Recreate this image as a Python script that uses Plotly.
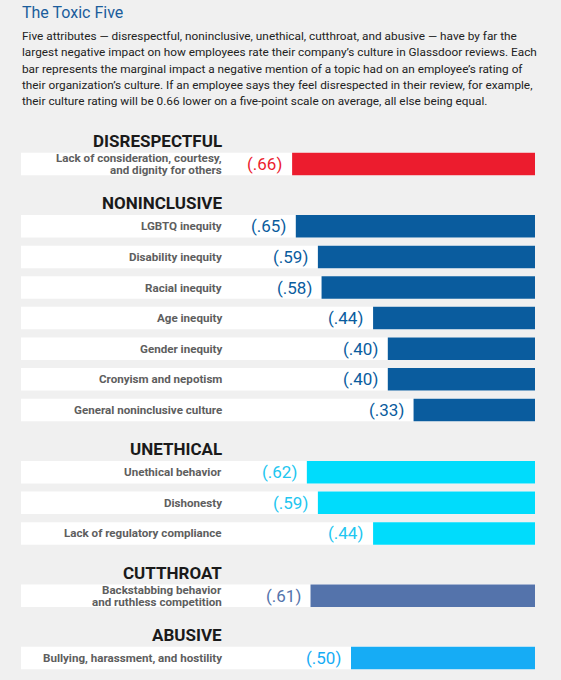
import plotly.graph_objects as go

# data
groups=["DISRESPECTFUL","NONINCLUSIVE","UNETHICAL","CUTTHROAT","ABUSIVE"]
disrespectful_topics=["Lack of consideration, courtesy,<br>and dignity for others"]
disrespectful_values=[0.66]
noninclusive_topics=["LGBTQ inequity","Disability inequity","Racial inequity",
                     "Age inequity","Gender inequity","Cronyism and nepotism",
                     "General noninclusive culture"]
noninclusive_values=[0.65,0.59,0.58,0.44,0.40,0.40,0.33]
unethical_topics=["Unethical behavior","Dishonesty","Lack of regulatory compliance"]
unethical_values=[0.62,0.59,0.44]
cutthroat_topics=["Backstabbing behavior<br>and ruthless competition"]
cutthroat_values=[0.61]
abusive_topics=["Bullying, harassment, and hostility"]
abusive_values=[0.50]

title="The Toxic Five"
subtitle_lines=[
    "Five attributes — disrespectful, noninclusive, unethical, cutthroat, and abusive — have by far the",
    "largest negative impact on how employees rate their company’s culture in Glassdoor reviews. Each",
    "bar represents the marginal impact a negative mention of a topic had on an employee’s rating of",
    "their organization’s culture. If an employee says they feel disrespected in their review, for example,",
    "their culture rating will be 0.66 lower on a five-point scale on average, all else being equal.",
]

#color scheme:
red="#ec1c2e"
dark_blue="#0a5c9e"
cyan="#00dcfc"
slate="#5473ab"
sky="#16acf5"
bg="#f0f0f0"
group_colors=[red,dark_blue,cyan,slate,sky]
label_colors=[red,dark_blue,"#22c6f0",slate,sky]

topics=[disrespectful_topics,noninclusive_topics,unethical_topics,cutthroat_topics,abusive_topics]
values=[disrespectful_values,noninclusive_values,unethical_values,cutthroat_values,abusive_values]

# layout in pixels (y axis runs in pixels, x axis in impact units)
W,H=561,680
px_per_unit=368
zero_px=535
box_left_px=21
label_right_px=224
row_h=22.5
label_line_gap=11.6

fig=go.Figure()
annotations=[]

row_y,row_x,row_c=[],[],[]
y=141
for g,name in enumerate(groups):
    annotations.append(dict(x=label_right_px/W,xref="paper",y=y,yref="y",text="<b>"+name+"</b>",
                            showarrow=False,xanchor="right",yanchor="middle",
                            font=dict(family="Roboto",size=17,color="#1a1a1a")))
    y+=23
    for t,v in zip(topics[g],values[g]):
        row_y.append(y)
        row_x.append(v)
        row_c.append(group_colors[g])
        # two-line labels get tighter spacing than plotly's default <br>
        parts=t.split("<br>")
        for k,part in enumerate(parts):
            ly=y+(k-(len(parts)-1)/2)*label_line_gap
            annotations.append(dict(x=label_right_px/W,xref="paper",y=ly,yref="y",text="<b>"+part+"</b>",
                                    showarrow=False,xanchor="right",yanchor="middle",
                                    font=dict(family="Roboto",size=11.6,color="#5e5e5e")))
        annotations.append(dict(x=v,xref="x",y=y,yref="y",text="("+f"{v:.2f}"[1:]+")",
                                showarrow=False,xanchor="right",yanchor="middle",xshift=-8,
                                font=dict(family="Roboto",size=17,color=label_colors[g])))
        y+=30.6
    y+=8.7

# white row boxes
fig.add_trace(go.Bar(x=[(zero_px-box_left_px)/px_per_unit]*len(row_y),y=row_y,orientation="h",
                     width=row_h,marker=dict(color="white",line=dict(width=0)),hoverinfo="skip"))
# impact bars
fig.add_trace(go.Bar(x=row_x,y=row_y,orientation="h",width=row_h,
                     marker=dict(color=row_c,line=dict(width=0))))

annotations.append(dict(x=20/W,xref="paper",y=12,yref="y",text=title,showarrow=False,
                        xanchor="left",yanchor="middle",
                        font=dict(family="Roboto",size=16,color="#1b5d9c")))
for i,line in enumerate(subtitle_lines):
    annotations.append(dict(x=20/W,xref="paper",y=36+i*16.3,yref="y",text=line,showarrow=False,
                            xanchor="left",yanchor="middle",
                            font=dict(family="Roboto",size=11.8,color="#222222")))

fig.update_layout(width=W,height=H,margin=dict(l=0,r=0,t=0,b=0),
                  paper_bgcolor=bg,plot_bgcolor=bg,barmode="overlay",showlegend=False,
                  annotations=annotations)
fig.update_xaxes(range=[zero_px/px_per_unit,(zero_px-W)/px_per_unit],visible=False,fixedrange=True)
fig.update_yaxes(range=[H,0],visible=False,fixedrange=True)
# drop the page's default body margin so the figure sits at the window's corner
fig.write_html("out.html",config={"displayModeBar":False},
               post_script="document.body.style.margin='0';")
